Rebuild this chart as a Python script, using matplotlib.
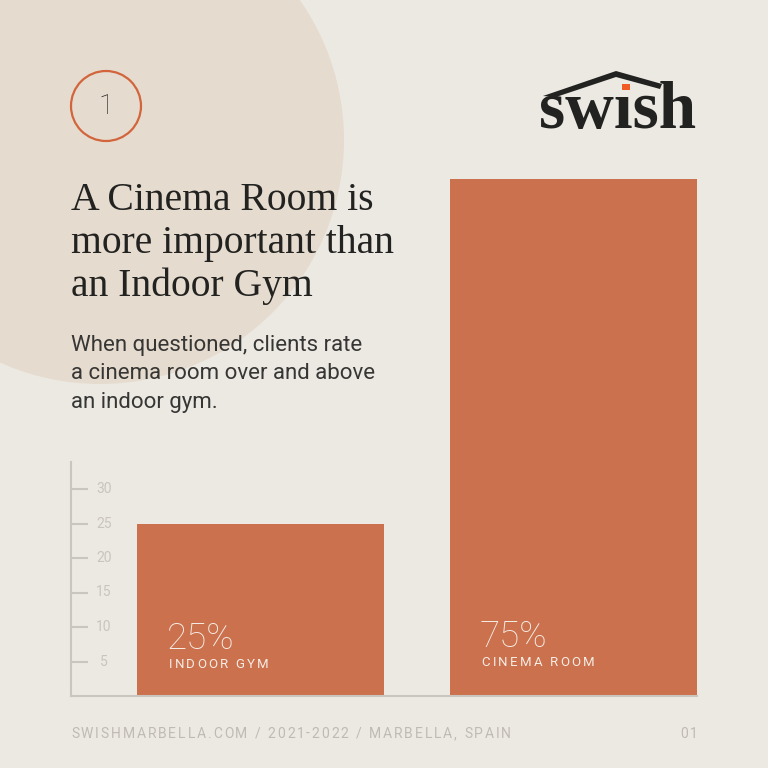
import matplotlib
matplotlib.use("Agg")
import matplotlib.pyplot as plt
from matplotlib.patches import Circle, Polygon, Rectangle
from matplotlib.transforms import blended_transform_factory

# data
categories = ["INDOOR GYM", "CINEMA ROOM"]
values = [25, 75]
value_labels = ["25%", "75%"]
tick_values = [5, 10, 15, 20, 25, 30]

title_lines = "A Cinema Room is\nmore important than\nan Indoor Gym"
subtitle = "When questioned, clients rate\na cinema room over and above\nan indoor gym."
footer = "SWISHMARBELLA.COM / 2021-2022 / MARBELLA, SPAIN"

BG = "#ECE9E3"
BLOB = "#E6DBCF"
BAR = "#CC714D"
DARK = "#222220"
GREY = "#BFBAB3"
AXIS = "#CAC5BE"

W = 768


def fx(x):
    return x / W


def fy(y):
    return 1 - y / W


def spaced_text(fig, x, y, s, size, color, spacing, weight="normal"):
    # draw text char by char to get letter spacing (in pixels)
    r = fig.canvas.get_renderer()
    for ch in s:
        t = fig.text(fx(x), fy(y), ch, fontsize=size, color=color, family="Roboto",
                     weight=weight, va="baseline", ha="left")
        w = t.get_window_extent(renderer=r).width if ch != " " else size * 0.35
        x += w + spacing


fig = plt.figure(figsize=(7.68, 7.68), dpi=100)
fig.patch.set_facecolor(BG)

# big circle in background
fig.patches.append(Circle((fx(100), fy(140)), 244 / W, transform=fig.transFigure,
                          facecolor=BLOB, edgecolor="none", zorder=0))

# numbered circle
fig.patches.append(Circle((fx(106), fy(106)), 35 / W, transform=fig.transFigure,
                          facecolor="none", edgecolor="#D2653C", lw=1.6, zorder=1))
fig.text(fx(106), fy(106), "1", fontsize=20, color=DARK, family="Roboto", weight="light",
         ha="center", va="center")

# logo
roof = [(543, 96), (616, 71), (662, 84), (660, 89), (616, 77), (556, 97)]
fig.patches.append(Polygon([(fx(a), fy(b)) for a, b in roof], closed=True,
                           transform=fig.transFigure, facecolor=DARK, edgecolor="none"))
fig.text(fx(539), fy(128), "sw\u0131sh", fontsize=48.5, color=DARK, family="Liberation Serif",
         weight="bold", ha="left", va="baseline")
fig.patches.append(Rectangle((fx(622), fy(90)), 8 / W, 6 / W, transform=fig.transFigure,
                             facecolor="#F05A24", edgecolor="none"))

# title + subtitle
fig.text(fx(71), fy(182), title_lines, fontsize=28.5, color=DARK, family="Liberation Serif",
         ha="left", va="top", linespacing=1.21)
fig.text(fx(71), fy(335), subtitle, fontsize=16, color="#363634", family="Roboto",
         ha="left", va="top", linespacing=1.46)

# chart
ax = fig.add_axes([fx(71), fy(696), (697 - 71) / W, (696 - 462) / W])
ax.set_facecolor("none")
x = [0, 1]
bars = ax.bar(x, values, width=0.79, color=BAR, clip_on=False, zorder=2)
ax.set_xlim(-0.605, 1.395)
ax.set_ylim(0, 234 / 6.9)

for s in ["top", "right"]:
    ax.spines[s].set_visible(False)
for s in ["left", "bottom"]:
    ax.spines[s].set_color(AXIS)
    ax.spines[s].set_linewidth(1.5)
ax.set_xticks([])
ax.set_yticks(tick_values)
ax.tick_params(axis="y", direction="in", length=12, width=1.5, color=AXIS, labelleft=False)
tr = blended_transform_factory(ax.transAxes, ax.transData)
for t in tick_values:
    ax.text(33 / 626, t, str(t), transform=tr, fontsize=10, color="#C9C4BD",
            family="Roboto", ha="center", va="center")

fig.canvas.draw()
for i, b in enumerate(bars):
    # pixel position of bar left edge
    px = ax.transData.transform((b.get_x(), 0))[0]
    left = px + 32
    base_pct = 649 if i == 0 else 647
    fig.text(fx(left - 2), fy(base_pct), value_labels[i], fontsize=26.5, color="#F4EDE6",
             family="Roboto", weight="light", ha="left", va="baseline")
    spaced_text(fig, left, base_pct + 19, categories[i], 9.5, "#F4EDE6", 2.2)

# footer
spaced_text(fig, 71, 738, footer, 10, GREY, 1.9)
spaced_text(fig, 680, 738, "01", 10, GREY, 1.9)

fig.savefig("out.png", dpi=100, facecolor=BG)
